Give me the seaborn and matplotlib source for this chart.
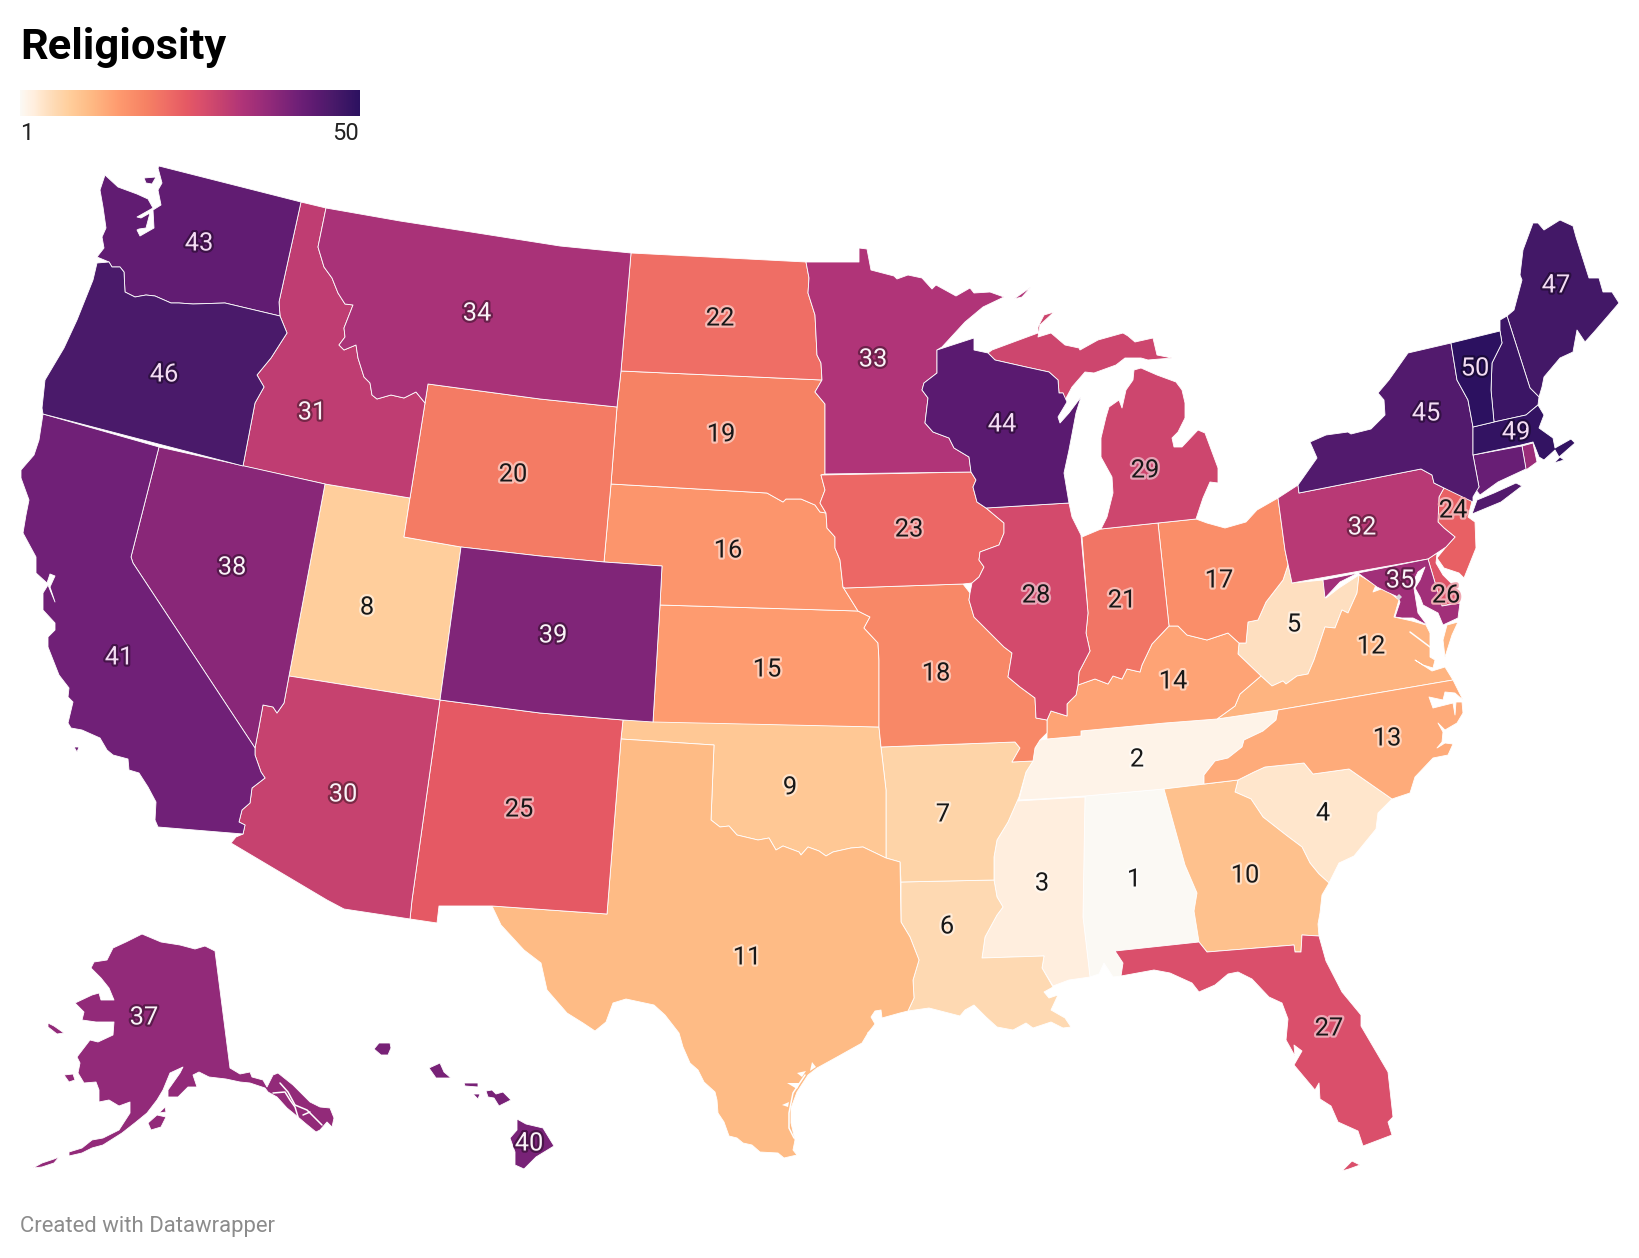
import numpy as np
import matplotlib
matplotlib.use('Agg')
import matplotlib.pyplot as plt
import matplotlib.patheffects as pe
from matplotlib.colors import to_rgb, LinearSegmentedColormap
import seaborn as sns

# rank per state (36, 42, 48 have no label there)
states = ['AL','TN','MS','SC','WV','LA','AR','UT','OK','GA','TX','VA','NC','KY','KS','NE','OH','MO','SD','WY','IN','ND','IA','NJ','NM',
          'DE','FL','IL','MI','AZ','ID','PA','MN','MT','MD','RI','AK','NV','CO','HI','CA','CT','WA','WI','NY','OR','ME','NH','MA','VT']
ranks = list(range(1, 51))
no_label = ['RI', 'CT', 'NH']

# outlines, in picture pixels
WA = [(159,166),(301,202),(279,302),(280,316),(225,303),(193,304),(179,303),(171,303),(155,296),(146,295),(135,297),(125,292),(124,272),(120,267),(112,267),(109,262),(97,257),(104,248),(102,237),(106,228),(103,207),(100,190),(105,175),(118,187),(137,194),(148,199),(153,208),(137,217),(141,218),(150,213),(146,228),(139,229),(137,230),(140,236),(154,228),(153,210),(161,205),(158,190),(162,183),(158,168)]
WA_ISLAND = [(144,178),(156,177),(152,184),(146,183)]
OR = [(280,316),(287,333),(271,358),(257,375),(264,387),(255,403),(243,466),(43,414),(42,408),(45,380),(64,348),(77,320),(93,280),(97,263),(109,262),(112,267),(120,267),(124,272),(125,292),(135,297),(146,295),(155,296),(171,303),(179,303),(193,304),(225,303)]
CA = [(43,414),(159,447),(131,557),(133,563),(255,748),(255,755),(261,772),(265,778),(252,788),(250,803),(242,810),(239,822),(245,825),(243,834),(158,827),(155,820),(156,802),(148,787),(139,773),(129,770),(128,759),(113,755),(107,750),(100,738),(82,730),(71,728),(68,723),(73,702),(68,697),(69,688),(59,675),(48,647),(48,637),(55,630),(55,623),(43,610),(43,593),(48,585),(55,602),(50,587),(55,576),(50,574),(47,583),(36,573),(36,557),(23,533),(26,515),(29,500),(21,478),(21,470),(34,455),(39,440)]
CA_ISLAND = [(74,747),(79,747),(77,752)]
NV = [(159,447),(325,484),(289,676),(284,703),(277,713),(273,707),(263,705),(259,727),(255,748),(133,563),(131,557)]
ID = [(301,202),(326,208),(318,247),(324,267),(332,278),(338,293),(345,304),(353,305),(344,328),(345,337),(339,345),(344,350),(356,345),(358,358),(364,377),(370,383),(372,395),(377,399),(391,395),(404,398),(416,392),(425,403),(410,498),(325,484),(243,466),(255,403),(264,387),(257,375),(271,358),(287,333),(280,316),(279,302)]
MT = [(326,208),(400,221),(471,232),(560,246),(631,253),(621,371),(617,407),(540,399),(428,384),(425,403),(416,392),(404,398),(391,395),(377,399),(372,395),(370,383),(364,377),(358,358),(356,345),(344,350),(339,345),(345,337),(344,328),(353,305),(345,304),(338,293),(332,278),(324,267),(318,247)]
WY = [(428,384),(540,399),(617,407),(611,484),(604,562),(540,556),(461,547),(404,537),(410,498)]
UT = [(325,484),(410,498),(404,537),(461,547),(440,700),(289,676)]
CO = [(461,547),(540,556),(604,562),(662,566),(660,605),(653,722),(623,720),(540,713),(440,700)]
AZ = [(289,676),(440,700),(412,900),(410,919),(344,909),(327,900),(231,843),(236,837),(243,834),(245,825),(239,822),(242,810),(250,803),(252,788),(265,778),(261,772),(255,755),(255,748),(259,727),(263,705),(273,707),(277,713),(284,703)]
NM = [(440,700),(540,713),(623,720),(621,739),(607,914),(492,906),(439,906),(437,923),(410,919),(412,900)]
TX = [(621,739),(714,745),(711,820),(720,827),(729,826),(737,835),(758,840),(769,838),(776,850),(783,846),(799,852),(801,855),(808,847),(819,851),(826,856),(833,852),(851,848),(863,847),(886,858),(900,862),(901,922),(910,937),(919,960),(913,980),(914,998),(908,1011),(900,1013),(882,1018),(881,1010),(875,1011),(871,1017),(875,1024),(868,1033),(862,1043),(837,1057),(817,1068),(808,1075),(797,1092),(791,1108),(791,1123),(795,1140),(793,1150),(797,1155),(784,1158),(778,1153),(760,1152),(752,1145),(743,1143),(737,1138),(729,1136),(724,1122),(718,1113),(717,1100),(715,1092),(704,1082),(698,1070),(690,1063),(683,1047),(679,1033),(665,1015),(654,1005),(626,999),(613,1003),(606,1022),(595,1031),(583,1023),(567,1013),(547,990),(541,963),(524,950),(501,925),(492,906),(607,914)]
OK = [(623,720),(879,727),(881,747),(886,790),(886,858),(863,847),(851,848),(833,852),(826,856),(819,851),(808,847),(801,855),(799,852),(783,846),(776,850),(769,838),(758,840),(737,835),(729,826),(720,827),(711,820),(714,745),(621,739)]
KS = [(660,605),(858,611),(870,617),(864,628),(878,643),(879,660),(879,727),(653,722)]
NE = [(611,484),(767,493),(783,502),(786,499),(801,499),(815,505),(820,512),(826,513),(827,528),(835,537),(835,548),(840,560),(843,587),(858,611),(660,605),(662,566),(604,562)]
SD = [(621,371),(822,380),(815,392),(825,404),(825,474),(821,475),(825,490),(820,503),(826,513),(820,512),(815,505),(801,499),(786,499),(783,502),(767,493),(611,484),(617,407)]
ND = [(631,253),(806,262),(809,278),(808,293),(815,315),(817,355),(821,363),(822,380),(621,371)]
MN = [(806,262),(859,262),(859,248),(867,249),(871,270),(894,276),(897,279),(908,275),(922,278),(932,289),(936,285),(956,296),(970,288),(974,293),(990,292),(1004,297),(983,307),(965,322),(942,347),(937,350),(937,373),(924,383),(922,390),(928,398),(925,423),(933,432),(949,438),(954,448),(969,457),(971,472),(825,474),(825,404),(815,392),(822,380),(821,363),(817,355),(815,315),(808,293),(809,278)]
MN_ISLAND = [(1014,299),(1031,287),(1022,297)]
WI = [(937,350),(974,338),(974,350),(988,353),(995,360),(1026,367),(1049,372),(1058,380),(1059,393),(1063,393),(1067,402),(1058,417),(1060,423),(1069,413),(1081,397),(1076,413),(1069,450),(1064,473),(1069,503),(986,508),(977,502),(973,487),(976,480),(971,472),(969,457),(954,448),(949,438),(933,432),(925,423),(928,398),(922,390),(924,383),(937,373)]
IA = [(821,475),(971,472),(976,480),(973,487),(977,502),(986,508),(1004,523),(1004,533),(999,545),(980,552),(979,560),(984,567),(979,577),(972,583),(963,584),(845,588),(843,587),(840,560),(835,548),(835,537),(827,528),(826,513),(820,503),(825,490)]
IL = [(986,508),(1069,503),(1072,517),(1081,535),(1088,613),(1086,633),(1090,651),(1079,672),(1078,685),(1076,695),(1067,704),(1067,716),(1051,711),(1047,720),(1036,718),(1035,698),(1020,687),(1008,677),(1012,653),(1004,647),(994,637),(974,617),(969,600),(970,593),(972,583),(979,577),(984,567),(979,560),(980,552),(999,545),(1004,533),(1004,523)]
IN = [(1082,537),(1101,529),(1158,523),(1169,626),(1152,644),(1142,665),(1140,672),(1127,669),(1122,679),(1113,676),(1108,684),(1095,679),(1078,685),(1079,672),(1090,651),(1086,633),(1088,613)]
MI = [(1101,529),(1107,517),(1113,493),(1112,477),(1101,457),(1101,438),(1106,417),(1109,407),(1119,400),(1122,408),(1126,390),(1133,380),(1134,370),(1141,368),(1157,375),(1176,382),(1182,390),(1185,403),(1185,418),(1178,432),(1172,438),(1174,447),(1182,447),(1198,430),(1205,433),(1218,468),(1218,483),(1210,482),(1203,498),(1196,519),(1158,523)]
MI_UPPER = [(1080,350),(1098,340),(1123,333),(1128,336),(1135,342),(1153,338),(1157,355),(1172,358),(1148,360),(1141,358),(1125,358),(1116,365),(1094,373),(1085,372),(1072,387),(1065,400),(1063,393),(1059,393),(1058,380),(1049,372),(1026,367),(995,360),(988,353),(992,350),(1019,340),(1038,333),(1038,327),(1044,315),(1054,312),(1040,325),(1038,337),(1051,333),(1065,345),(1079,348)]
OH = [(1158,523),(1196,519),(1207,523),(1225,528),(1246,522),(1257,510),(1278,498),(1285,550),(1288,565),(1283,580),(1266,602),(1258,620),(1248,622),(1246,643),(1239,643),(1228,633),(1207,640),(1187,635),(1178,626),(1169,626)]
PA = [(1278,498),(1298,485),(1299,493),(1421,469),(1432,475),(1434,483),(1444,488),(1439,497),(1438,522),(1444,528),(1455,537),(1446,547),(1437,553),(1428,559),(1292,583),(1285,550)]
NY = [(1299,493),(1298,485),(1317,458),(1310,442),(1326,435),(1348,432),(1351,434),(1371,429),(1385,415),(1384,400),(1378,393),(1389,380),(1408,353),(1451,343),(1457,380),(1468,400),(1473,427),(1473,455),(1479,487),(1473,497),(1473,502),(1444,488),(1434,483),(1432,475),(1421,469)]
NY_LONG = [(1472,514),(1477,500),(1494,493),(1516,483),(1522,486),(1501,502)]
VT = [(1451,343),(1500,331),(1502,343),(1492,363),(1491,390),(1494,422),(1473,427),(1468,400),(1457,380)]
NH = [(1500,331),(1500,320),(1507,316),(1530,388),(1539,397),(1538,405),(1526,415),(1494,422),(1491,390),(1492,363),(1502,343)]
ME = [(1507,316),(1514,310),(1522,280),(1520,275),(1523,250),(1533,223),(1538,223),(1544,230),(1560,220),(1573,226),(1576,237),(1589,278),(1599,278),(1603,292),(1612,292),(1619,303),(1607,317),(1594,332),(1585,342),(1577,330),(1573,352),(1560,358),(1544,377),(1542,387),(1539,397),(1530,388)]
MA = [(1473,427),(1494,422),(1526,415),(1538,405),(1544,415),(1539,428),(1553,438),(1555,448),(1571,439),(1575,443),(1559,457),(1555,450),(1544,460),(1539,457),(1533,442),(1521,445),(1473,455)]
MA_ISLAND = [(1554,463),(1560,457),(1564,460)]
CT = [(1473,455),(1522,446),(1526,469),(1498,482),(1480,495),(1476,490),(1479,487)]
RI = [(1522,446),(1533,443),(1537,462),(1526,470)]
NJ = [(1444,488),(1473,497),(1468,517),(1475,522),(1476,548),(1464,578),(1459,573),(1444,568),(1437,558),(1446,547),(1455,537),(1444,528),(1438,522),(1439,497)]
DE = [(1428,559),(1437,553),(1436,563),(1443,575),(1455,587),(1460,602),(1442,606)]
MD = [(1323,580),(1428,559),(1442,606),(1460,603),(1458,618),(1443,625),(1438,613),(1423,605),(1420,597),(1415,588),(1420,580),(1425,567),(1418,572),(1413,582),(1418,613),(1427,625),(1413,618),(1402,618),(1395,617),(1400,602),(1398,597),(1387,592),(1377,587),(1358,573),(1340,582),(1325,598)]
DC = [(1396,597),(1399,594),(1402,597),(1399,600)]
VA = [(1359,575),(1376,585),(1373,592),(1384,588),(1399,600),(1394,617),(1412,621),(1426,625),(1430,633),(1430,657),(1435,660),(1433,668),(1423,665),(1415,660),(1432,671),(1445,667),(1453,680),(1278,710),(1217,719),(1235,706),(1240,694),(1261,676),(1272,686),(1283,681),(1286,684),(1297,676),(1308,674),(1314,660),(1325,627),(1335,628),(1342,610),(1348,613),(1357,593)]
VA_SHORE = [(1458,622),(1447,625),(1443,640),(1445,657),(1452,635)]
WV = [(1292,583),(1323,580),(1326,598),(1339,588),(1359,575),(1357,593),(1348,613),(1342,610),(1335,628),(1325,627),(1314,660),(1308,674),(1297,676),(1286,684),(1283,681),(1272,686),(1261,676),(1238,654),(1239,643),(1246,643),(1248,622),(1258,620),(1266,602),(1283,580),(1288,565),(1285,550)]
KY = [(1239,643),(1238,654),(1261,676),(1240,694),(1235,706),(1217,719),(1165,723),(1081,731),(1081,736),(1047,739),(1047,733),(1047,720),(1051,711),(1067,716),(1067,704),(1076,695),(1078,685),(1095,679),(1108,684),(1113,676),(1122,679),(1127,669),(1140,672),(1142,665),(1152,644),(1169,626),(1178,626),(1187,635),(1207,640),(1228,633)]
MO = [(845,588),(963,584),(970,593),(969,600),(974,617),(994,637),(1004,647),(1012,653),(1008,677),(1020,687),(1035,698),(1036,718),(1047,720),(1047,733),(1040,740),(1035,748),(1033,761),(1012,762),(1020,748),(1015,742),(881,747),(879,727),(879,660),(878,643),(864,628),(870,617),(858,611),(843,587)]
AR = [(881,747),(1015,742),(1020,748),(1012,762),(1033,761),(1026,772),(1019,797),(1008,822),(997,840),(994,857),(994,880),(901,882),(900,862),(886,858),(886,790)]
LA = [(901,882),(994,880),(997,897),(1003,907),(997,915),(985,937),(982,958),(1044,956),(1042,968),(1053,987),(1044,992),(1049,998),(1058,995),(1051,1010),(1065,1018),(1071,1027),(1063,1028),(1051,1022),(1033,1028),(1026,1023),(1013,1030),(997,1027),(986,1017),(974,1005),(965,1010),(960,1016),(929,1008),(908,1011),(914,998),(913,980),(919,960),(910,937),(901,922)]
MS = [(1017,801),(1085,797),(1083,917),(1090,977),(1069,980),(1053,986),(1042,968),(1044,956),(982,958),(985,937),(997,915),(1003,907),(997,897),(994,880),(994,857),(997,840),(1008,822)]
TN = [(1019,800),(1040,799),(1085,796),(1164,789),(1204,784),(1204,775),(1215,761),(1228,758),(1242,747),(1244,740),(1263,731),(1276,720),(1278,710),(1217,719),(1165,723),(1081,731),(1081,736),(1047,739),(1040,740),(1035,748),(1033,761),(1026,772)]
AL = [(1085,796),(1164,789),(1185,865),(1197,893),(1194,911),(1199,942),(1115,951),(1123,963),(1121,976),(1113,977),(1104,963),(1099,974),(1090,977),(1083,917)]
GA = [(1164,789),(1238,780),(1235,792),(1251,799),(1263,817),(1286,835),(1302,847),(1310,863),(1319,874),(1329,883),(1322,895),(1320,913),(1318,924),(1319,936),(1302,935),(1301,952),(1295,952),(1294,945),(1207,952),(1199,942),(1194,911),(1197,893),(1185,865)]
FL = [(1115,951),(1199,942),(1207,952),(1294,945),(1295,952),(1301,952),(1302,935),(1319,936),(1326,961),(1342,992),(1361,1015),(1361,1026),(1388,1072),(1393,1117),(1388,1122),(1392,1135),(1363,1146),(1358,1131),(1338,1122),(1331,1106),(1320,1099),(1319,1083),(1315,1090),(1294,1065),(1302,1051),(1294,1045),(1295,1056),(1286,1040),(1288,1019),(1282,1003),(1269,997),(1252,979),(1238,972),(1228,974),(1215,985),(1199,992),(1192,983),(1170,973),(1154,970),(1121,976),(1123,963)]
FL_KEYS = [(1342,1171),(1352,1161),(1360,1165),(1349,1169)]
SC = [(1235,792),(1238,780),(1254,772),(1265,767),(1304,763),(1313,774),(1349,769),(1392,799),(1378,813),(1376,829),(1354,856),(1339,863),(1329,883),(1319,874),(1310,863),(1302,847),(1286,835),(1263,817),(1251,799)]
NC = [(1278,710),(1453,680),(1463,700),(1455,693),(1445,692),(1443,700),(1429,697),(1433,708),(1453,703),(1455,715),(1456,702),(1462,702),(1463,713),(1457,723),(1445,730),(1438,723),(1443,732),(1442,742),(1437,748),(1445,743),(1453,744),(1448,755),(1433,758),(1415,777),(1410,793),(1392,799),(1349,769),(1313,774),(1304,763),(1265,767),(1254,772),(1238,780),(1204,784),(1204,775),(1215,761),(1228,758),(1242,747),(1244,740),(1263,731),(1276,720)]
AK = [(215,951),(230,1068),(240,1074),(250,1072),(252,1077),(263,1080),(267,1087),(273,1075),(278,1073),(293,1085),(310,1102),(320,1107),(330,1108),(334,1118),(332,1127),(327,1122),(320,1130),(316,1132),(305,1123),(298,1117),(287,1108),(277,1097),(268,1092),(265,1088),(250,1083),(240,1082),(226,1079),(209,1077),(199,1072),(193,1075),(197,1087),(188,1087),(178,1097),(168,1097),(168,1090),(180,1073),(183,1067),(170,1073),(163,1090),(157,1100),(147,1113),(136,1122),(122,1133),(103,1145),(92,1148),(82,1153),(69,1156),(69,1152),(82,1148),(92,1140),(103,1138),(119,1130),(130,1113),(130,1102),(119,1106),(109,1100),(99,1102),(99,1090),(96,1082),(84,1083),(78,1073),(80,1063),(77,1057),(90,1040),(98,1042),(113,1035),(114,1022),(96,1022),(82,1020),(84,1012),(75,1003),(92,995),(99,993),(101,1000),(114,1000),(109,988),(101,978),(91,968),(94,962),(107,960),(113,948),(126,942),(142,934),(161,942),(180,945),(195,949),(205,946)]
AK_ISLES = [
    [(48,1023),(54,1026),(64,1033),(57,1034),(48,1027)],
    [(64,1075),(73,1074),(75,1080),(69,1082)],
    [(148,1123),(157,1115),(166,1117),(161,1127),(151,1130)],
    [(159,1113),(165,1107),(166,1112)],
    [(33,1168),(42,1163),(54,1159),(59,1157),(54,1163),(42,1167)],
]
HI_ISLES = [
    [(374,1049),(379,1043),(390,1043),(391,1048),(388,1055),(381,1055)],
    [(429,1068),(440,1063),(444,1072),(451,1078),(436,1078)],
    [(464,1083),(478,1083),(478,1087),(465,1086)],
    [(473,1094),(480,1094),(478,1099)],
    [(486,1091),(492,1090),(496,1094),(503,1092),(511,1100),(499,1106),(494,1098),(488,1097)],
    [(517,1119),(526,1124),(543,1128),(554,1146),(536,1157),(524,1169),(515,1165),(515,1152),(510,1138),(517,1130)],
]

# water that cuts into the land: thin channels and small bays
channels = [
    [(273,1093),(285,1092),(290,1100),(295,1107),(298,1117)],
    [(280,1083),(288,1092),(295,1105),(307,1110),(315,1118),(322,1125)],
    [(310,1112),(303,1115)],
    [(805,1075),(793,1093),(789,1113),(789,1128),(794,1138)],
    [(868,1033),(877,1027)],
    [(1410,632),(1430,647)],
]
bays = [
    [(812,1062),(816,1067),(810,1071)],
    [(797,1073),(806,1071),(802,1077)],
    [(787,1083),(800,1083),(797,1089)],
    [(782,1105),(789,1102),(788,1107)],
]

shapes = {
    'WA': [WA, WA_ISLAND], 'OR': [OR], 'CA': [CA, CA_ISLAND], 'NV': [NV], 'ID': [ID], 'MT': [MT], 'WY': [WY], 'UT': [UT], 'CO': [CO],
    'AZ': [AZ], 'NM': [NM], 'TX': [TX], 'OK': [OK], 'KS': [KS], 'NE': [NE], 'SD': [SD], 'ND': [ND], 'MN': [MN, MN_ISLAND], 'WI': [WI],
    'IA': [IA], 'IL': [IL], 'IN': [IN], 'MI': [MI, MI_UPPER], 'OH': [OH], 'PA': [PA], 'NY': [NY, NY_LONG], 'VT': [VT], 'NH': [NH],
    'ME': [ME], 'MA': [MA, MA_ISLAND], 'CT': [CT], 'RI': [RI], 'NJ': [NJ], 'DE': [DE], 'MD': [MD], 'VA': [VA, VA_SHORE], 'WV': [WV],
    'KY': [KY], 'MO': [MO], 'AR': [AR], 'LA': [LA], 'MS': [MS], 'TN': [TN], 'AL': [AL], 'GA': [GA], 'FL': [FL, FL_KEYS], 'SC': [SC],
    'NC': [NC], 'AK': [AK] + AK_ISLES, 'HI': HI_ISLES,
}

# where each number sits on the map
label_x = {'AL':1134,'TN':1137,'MS':1042,'SC':1323,'WV':1294,'LA':947,'AR':943,'UT':367,'OK':790,'GA':1245,'TX':747,'VA':1371,'NC':1387,'KY':1173,'KS':767,'NE':728,'OH':1219,'MO':936,'SD':721,'WY':513,'IN':1122,'ND':720,'IA':909,'NJ':1453,'NM':519,'DE':1446,'FL':1329,'IL':1036,'MI':1145,'AZ':343,'ID':312,'PA':1362,'MN':873,'MT':477,'MD':1400,'AK':144,'NV':232,'CO':553,'HI':529,'CA':119,'WA':199,'WI':1002,'NY':1426,'OR':164,'ME':1556,'MA':1516,'VT':1475}
label_y = {'AL':877,'TN':757,'MS':881,'SC':811,'WV':622,'LA':924,'AR':812,'UT':605,'OK':785,'GA':873,'TX':955,'VA':644,'NC':736,'KY':679,'KS':667,'NE':548,'OH':578,'MO':671,'SD':432,'WY':472,'IN':598,'ND':316,'IA':527,'NJ':508,'NM':807,'DE':593,'FL':1026,'IL':593,'MI':468,'AZ':792,'ID':410,'PA':525,'MN':357,'MT':311,'MD':578,'AK':1015,'NV':565,'CO':633,'HI':1141,'CA':655,'WA':241,'WI':422,'NY':411,'OR':372,'ME':283,'MA':430,'VT':366}

# colour ramp, rank -> colour
ramp_ranks = [1, 2, 3, 4, 5, 6, 8, 11, 15, 19, 22, 25, 27, 30, 33, 37, 41, 44, 46, 50]
ramp_colors = ['#fbf9f4', '#fef3e7', '#ffeedd', '#ffe6cc', '#fedfbf', '#fed9b2', '#ffce9c', '#febb85', '#fe9b6f', '#f68264',
               '#ef6e65', '#e55964', '#da4f6b', '#c6426f', '#b03478', '#922a79', '#702077', '#5a1a70', '#4b1a6a', '#2c1160']

sns.set_style('white')
plt.rcParams['font.family'] = ['Roboto', 'DejaVu Sans']

low, high = min(ranks), max(ranks)
ramp = LinearSegmentedColormap.from_list('religiosity', [((r - low) / (high - low), c) for r, c in zip(ramp_ranks, ramp_colors)], N=512)

fig = plt.figure(figsize=(16.4, 12.58), dpi=100)
ax = fig.add_axes([0, 0, 1, 1])
ax.set_xlim(0, 1640)
ax.set_ylim(1258, 0)
ax.set_axis_off()

rank_of = dict(zip(states, ranks))
for st in states:
    col = ramp((rank_of[st] - low) / (high - low))
    for ring in shapes[st]:
        xs, ys = zip(*ring)
        ax.fill(xs, ys, facecolor=col, edgecolor='white', linewidth=0.6, joinstyle='round')
xs, ys = zip(*DC)
ax.fill(xs, ys, facecolor='#d9d4dc', edgecolor='none')
for line in channels:
    xs, ys = zip(*line)
    ax.plot(xs, ys, color='white', linewidth=1.1, solid_capstyle='round')
for bay in bays:
    xs, ys = zip(*bay)
    ax.fill(xs, ys, facecolor='white', edgecolor='none')

for st in states:
    if st in no_label:
        continue
    r = rank_of[st]
    fill = np.array(to_rgb(ramp((r - low) / (high - low))))
    if r < 30:
        txt, halo = '#181818', fill * 0.5 + 0.5
    else:
        txt = '#f3dcf3' if r > 40 else '#f9f3f7'
        halo = fill * 0.62
    ax.text(label_x[st], label_y[st], str(r), ha='center', va='center_baseline', fontsize=18.3, color=txt,
            path_effects=[pe.withStroke(linewidth=3.2, foreground=halo)])

ax.text(20, 59, 'Religiosity', fontsize=31.3, fontweight='bold', color='#000000', ha='left', va='baseline')
ax.text(20, 140, str(low), fontsize=17, color='#222222', ha='left', va='baseline')
ax.text(359, 140, str(high), fontsize=17, color='#222222', ha='right', va='baseline')
ax.text(20, 1232, 'Created with Datawrapper', fontsize=15.9, color='#8c8c8c', ha='left', va='baseline')

# colour key
cax = fig.add_axes([20 / 1640, 1 - 116 / 1258, 340 / 1640, 26 / 1258])
sns.heatmap(np.linspace(low, high, 340).reshape(1, -1), ax=cax, cmap=ramp, cbar=False, xticklabels=False, yticklabels=False,
            linewidths=0, rasterized=True)

fig.savefig('out.png', dpi=100, facecolor='white')
